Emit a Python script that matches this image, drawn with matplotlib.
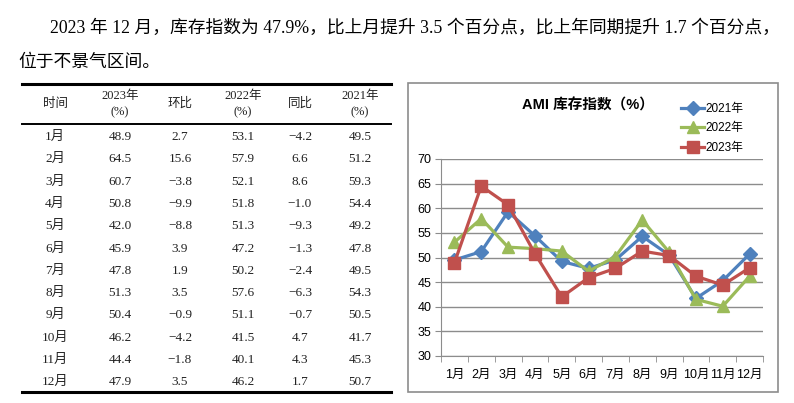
import matplotlib
matplotlib.use('Agg')
import matplotlib.pyplot as plt
from matplotlib.patches import Rectangle
from matplotlib.lines import Line2D

months = ['1月', '2月', '3月', '4月', '5月', '6月', '7月', '8月', '9月', '10月', '11月', '12月']
idx_2023 = [48.9, 64.5, 60.7, 50.8, 42.0, 45.9, 47.8, 51.3, 50.4, 46.2, 44.4, 47.9]
mom = [2.7, 15.6, -3.8, -9.9, -8.8, 3.9, 1.9, 3.5, -0.9, -4.2, -1.8, 3.5]
idx_2022 = [53.1, 57.9, 52.1, 51.8, 51.3, 47.2, 50.2, 57.6, 51.1, 41.5, 40.1, 46.2]
yoy = [-4.2, 6.6, 8.6, -1.0, -9.3, -1.3, -2.4, -6.3, -0.7, 4.7, 4.3, 1.7]
idx_2021 = [49.5, 51.2, 59.3, 54.4, 49.2, 47.8, 49.5, 54.3, 50.5, 41.7, 45.3, 50.7]

headers = ['时间', '2023年\n(%)', '环比', '2022年\n(%)', '同比', '2021年\n(%)']
para1 = '2023 年 12 月，库存指数为 47.9%，比上月提升 3.5 个百分点，比上年同期提升 1.7 个百分点，'
para2 = '位于不景气区间。'

serif = ['Liberation Serif', 'Noto Sans CJK SC']
sans = ['Liberation Sans', 'Noto Sans CJK SC']
plt.rcParams['font.family'] = sans

W, H = 794, 403
def fx(x):
    return x / W
def fy(y):
    return 1 - y / H

fig = plt.figure(figsize=(W / 100, H / 100), dpi=100)

# paragraph
fig.text(fx(50), fy(28), para1, family=serif, fontsize=12.8, va='center', ha='left')
fig.text(fx(18), fy(62), para2, family=serif, fontsize=12.8, va='center', ha='left')

# table
col_x = [55, 120, 180, 243, 300, 360]
fig.add_artist(Line2D([fx(22), fx(391)], [fy(84), fy(84)], color='black', lw=2.2))
fig.add_artist(Line2D([fx(22), fx(391)], [fy(123.5), fy(123.5)], color='black', lw=1.4))
fig.add_artist(Line2D([fx(22), fx(391)], [fy(391.5), fy(391.5)], color='black', lw=2.2))
for x, h in zip(col_x, headers):
    fig.text(fx(x), fy(104), h, family=serif, fontsize=9, ha='center', va='center',
             linespacing=1.45, color='#222222')

def fmt(v):
    return f'{v:.1f}'.replace('-', '−')

for i, m in enumerate(months):
    y = fy(137 + i * 22.3)
    row = [m, fmt(idx_2023[i]), fmt(mom[i]), fmt(idx_2022[i]), fmt(yoy[i]), fmt(idx_2021[i])]
    for x, s in zip(col_x, row):
        fig.text(fx(x), y, s, family=serif, fontsize=9.5, ha='center', va='center', color='#222222')

# chart frame
fig.add_artist(Rectangle((fx(407.5), fy(392)), fx(778) - fx(407.5), fy(83) - fy(392),
                         transform=fig.transFigure, fill=False, edgecolor='#8c8c8c', lw=1.2))

ax = fig.add_axes([fx(441), fy(356), fx(763) - fx(441), fy(159) - fy(356)])
x = list(range(len(months)))
l1, = ax.plot(x, idx_2021, color='#4F81BD', marker='D', ms=7, lw=2.3, label='2021年')
l2, = ax.plot(x, idx_2022, color='#9BBB59', marker='^', ms=8.5, lw=2.3, label='2022年')
l3, = ax.plot(x, idx_2023, color='#C0504D', marker='s', ms=8, lw=2.3, label='2023年')

ax.set_xlim(-0.5, len(months) - 0.5)
ax.set_ylim(30, 70)
ax.set_yticks(range(30, 71, 5))
ax.yaxis.grid(True, color='#8c8c8c', lw=1)
ax.set_axisbelow(True)
ax.set_xticks(x)
ax.set_xticklabels(months, fontsize=9)
ax.set_xticks([i - 0.5 for i in range(len(months) + 1)], minor=True)
ax.tick_params(axis='x', which='major', length=0, pad=9)
ax.tick_params(axis='x', which='minor', length=4, color='#8c8c8c', direction='out')
ax.tick_params(axis='y', length=4, color='#8c8c8c', labelsize=9, pad=3)
for s in ['top', 'right']:
    ax.spines[s].set_visible(False)
for s in ['left', 'bottom']:
    ax.spines[s].set_color('#8c8c8c')

fig.text(fx(588), fy(105), 'AMI 库存指数（%）', fontsize=10.5, fontweight='bold',
         ha='center', va='center')
fig.legend(handles=[l1, l2, l3], loc='upper left', bbox_to_anchor=(fx(676), fy(98)),
           frameon=False, fontsize=8.5, handlelength=2.0, handletextpad=0.1,
           labelspacing=0.65, borderaxespad=0)

fig.savefig('out.png', dpi=100)
